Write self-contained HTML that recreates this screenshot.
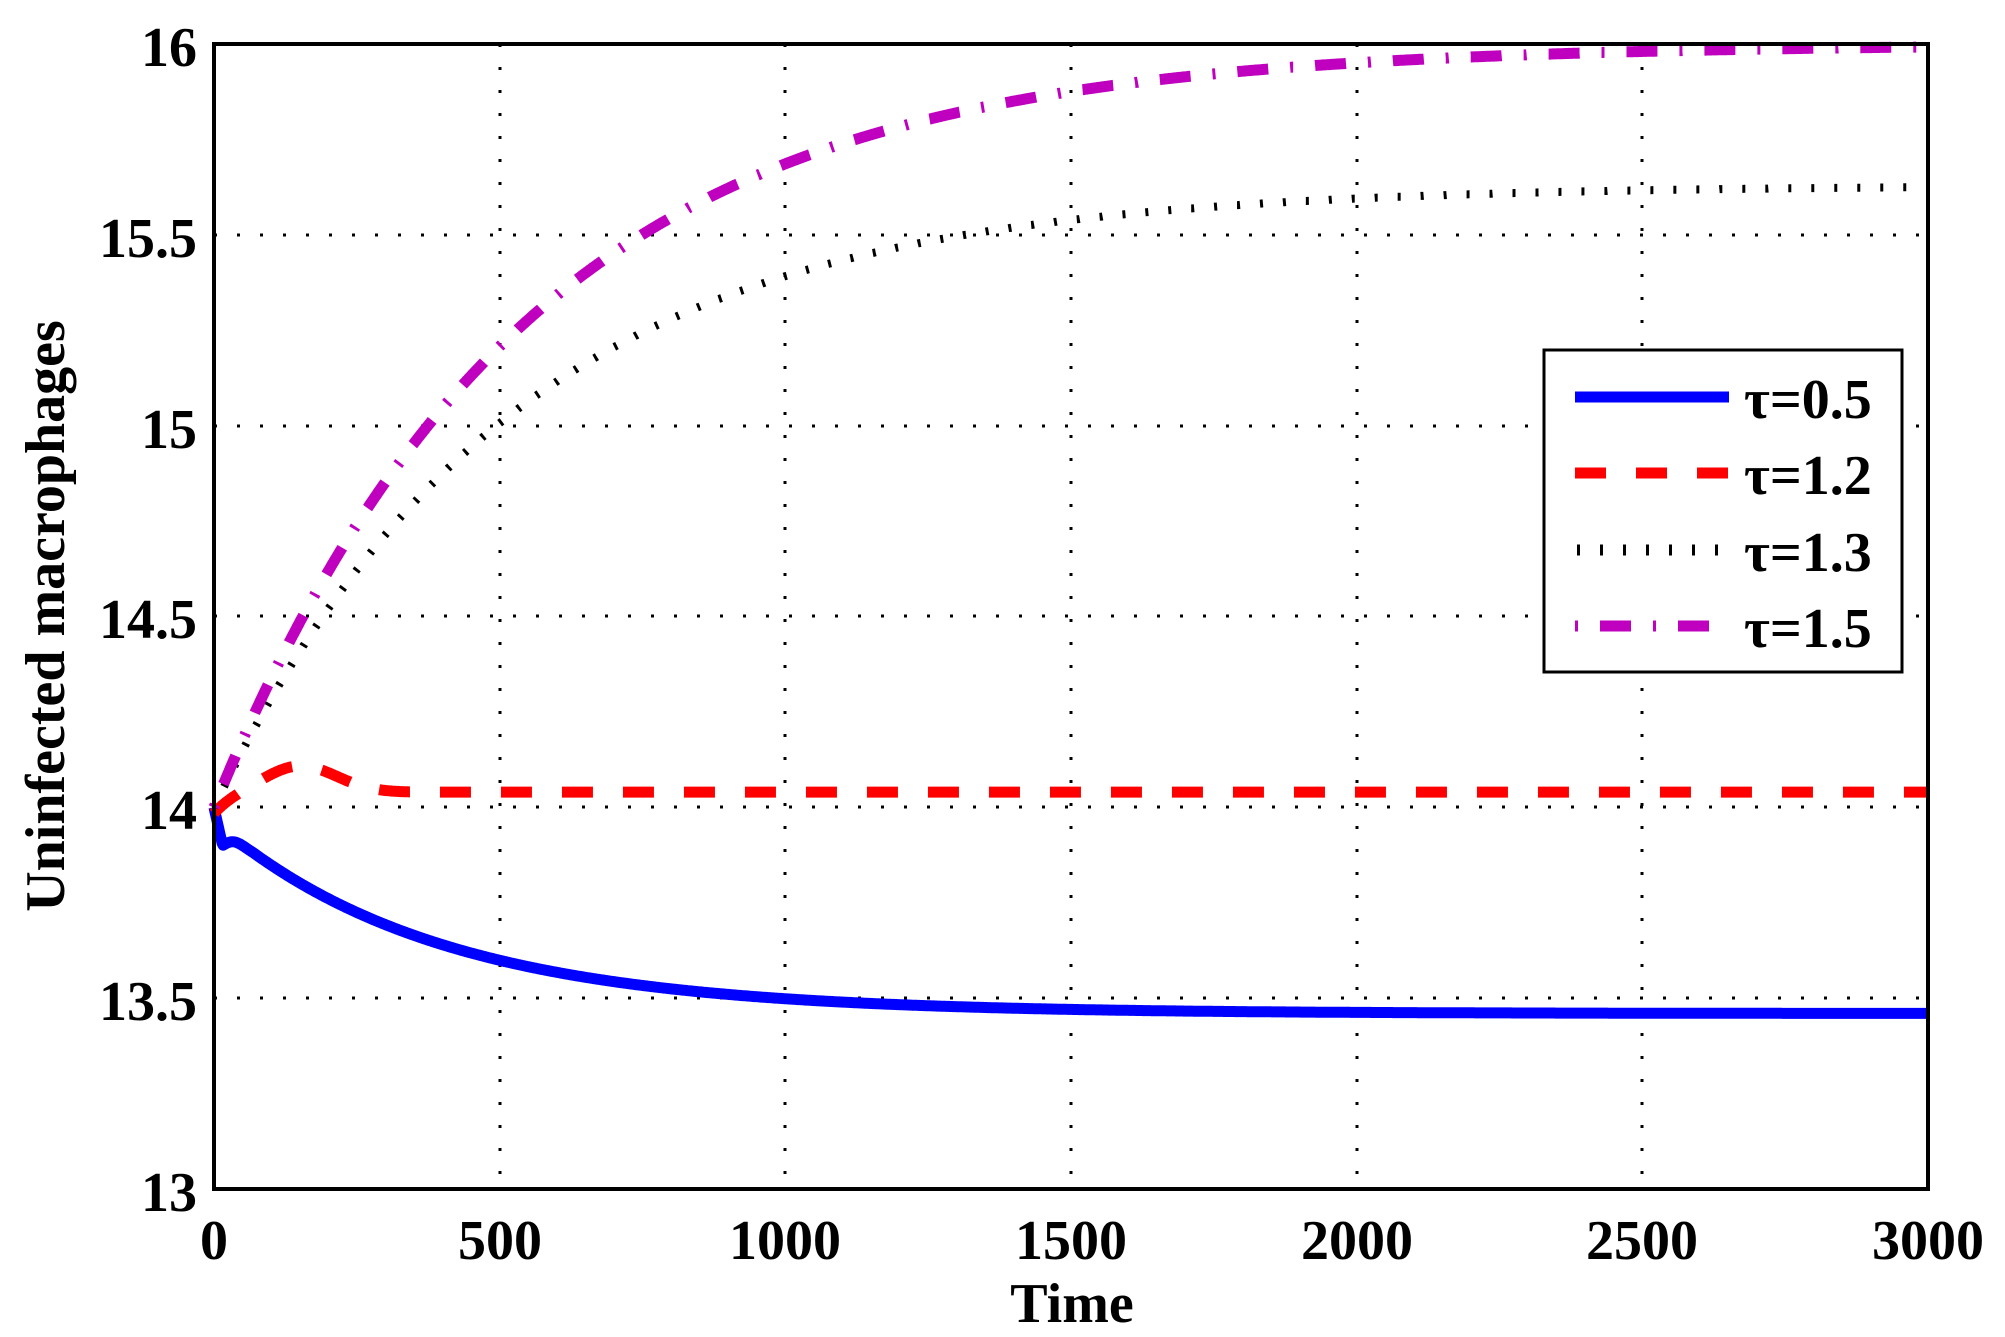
<!DOCTYPE html>
<html><head><meta charset="utf-8"><style>
html,body{margin:0;padding:0;background:#fff;}
svg{display:block;font-family:"Liberation Serif",serif;font-weight:bold;}
</style></head><body>
<svg id="s" width="2005" height="1337" viewBox="0 0 2005 1337" xmlns="http://www.w3.org/2000/svg">
<rect width="2005" height="1337" fill="#fff"/>
<g stroke="#000" stroke-width="3" stroke-dasharray="3 20">
<line x1="500" y1="44" x2="500" y2="1189"/>
<line x1="785" y1="44" x2="785" y2="1189"/>
<line x1="1071" y1="44" x2="1071" y2="1189"/>
<line x1="1357" y1="44" x2="1357" y2="1189"/>
<line x1="1642" y1="44" x2="1642" y2="1189"/>
<line x1="214" y1="235" x2="1928" y2="235"/>
<line x1="214" y1="426" x2="1928" y2="426"/>
<line x1="214" y1="616" x2="1928" y2="616"/>
<line x1="214" y1="807" x2="1928" y2="807"/>
<line x1="214" y1="998" x2="1928" y2="998"/>
</g>
<g id="curves" fill="none" stroke-linejoin="round"></g>
<rect x="214" y="44" width="1714" height="1145" fill="none" stroke="#000" stroke-width="4"/>
<g font-size="56" text-anchor="end">
<text x="197" y="66">16</text><text x="197" y="257">15.5</text><text x="197" y="448">15</text>
<text x="197" y="638">14.5</text><text x="197" y="829">14</text><text x="197" y="1020">13.5</text>
<text x="197" y="1211">13</text>
</g>
<g font-size="56" text-anchor="middle">
<text x="214" y="1259">0</text><text x="500" y="1259">500</text><text x="785" y="1259">1000</text>
<text x="1071" y="1259">1500</text><text x="1357" y="1259">2000</text><text x="1642" y="1259">2500</text>
<text x="1928" y="1259">3000</text>
<text x="1072" y="1322">Time</text>
<text transform="translate(64,616) rotate(-90)">Uninfected macrophages</text>
</g>
<rect x="1544" y="350" width="358" height="322" fill="#fff" stroke="#000" stroke-width="3"/>
<g stroke-width="11">
<line x1="1575" y1="397" x2="1729" y2="397" stroke="#0000ff"/>
<line x1="1575" y1="473" x2="1729" y2="473" stroke="#ff0000" stroke-dasharray="31 30"/>
<line x1="1577" y1="550" x2="1729" y2="550" stroke="#000" stroke-dasharray="3 20"/>
<line x1="1575" y1="626" x2="1729" y2="626" stroke="#bf00bf" stroke-dasharray="3 22 31 22"/>
</g>
<g font-size="56">
<text x="1744" y="418">τ=0.5</text><text x="1744" y="494">τ=1.2</text>
<text x="1744" y="571">τ=1.3</text><text x="1744" y="647">τ=1.5</text>
</g>
</svg>
<script>
function X(t){return 214+t*1714/3000;}
function Y(v){return 44+(16-v)*381.7;}
function path(f){var d="";for(var t=0;t<=3000;t+=2){d+=(t?"L":"M")+X(t).toFixed(1)+","+Y(f(t)).toFixed(1);}return d;}
var g=document.getElementById("curves");
function add(f,col,w,dash){var p=document.createElementNS("http://www.w3.org/2000/svg","path");p.setAttribute("d",path(f));p.setAttribute("stroke",col);p.setAttribute("stroke-width",w);if(dash)p.setAttribute("stroke-dasharray",dash);g.appendChild(p);}
add(function(t){
 if(t<15)return 14-0.1*t/15;
 if(t<50)return 13.9+0.01*Math.sin((t-15)/35*Math.PI);
 if(t<70)return 13.9-0.02*(t-50)/20;
 return 13.46+0.42*Math.exp(-(t-70)/390);},"#0000ff",11);
add(function(t){return 14.04-0.06*Math.exp(-t/40)+0.07*Math.exp(-Math.pow((t-150)/90,2));},"#ff0000",11,"31 30");
add(function(t){return 14+1.63*(1-Math.exp(-t/520));},"#000",8,"3 20");
add(function(t){return 14+2.0*(1-Math.exp(-t/540));},"#bf00bf",11,"3 22 31 22");
</script>
</body></html>
